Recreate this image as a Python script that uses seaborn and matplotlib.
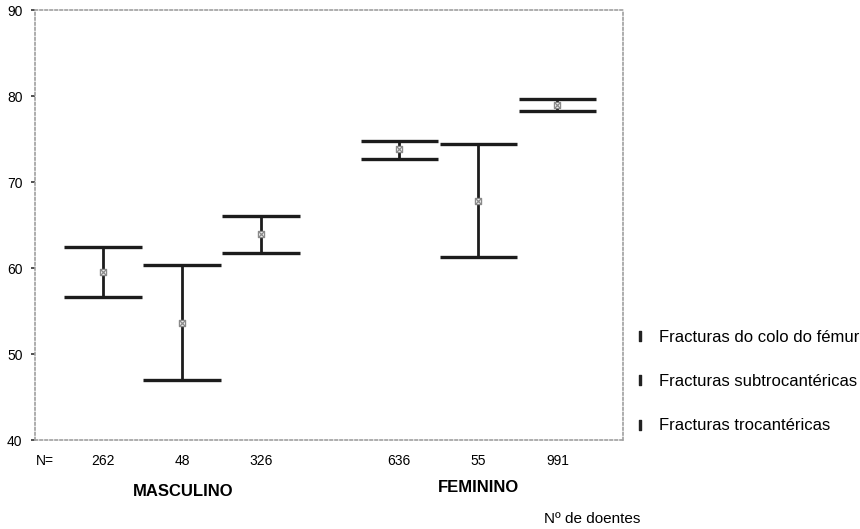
import matplotlib
matplotlib.use("Agg")
import matplotlib.pyplot as plt
import seaborn as sns
import pandas as pd
from matplotlib.lines import Line2D

# ---- data ----
groups = ["MASCULINO", "MASCULINO", "MASCULINO", "FEMININO", "FEMININO", "FEMININO"]
series = ["Fracturas do colo do fémur", "Fracturas subtrocantéricas", "Fracturas trocantéricas",
          "Fracturas do colo do fémur", "Fracturas subtrocantéricas", "Fracturas trocantéricas"]
n_labels = ["262", "48", "326", "636", "55", "991"]
means = [59.5, 53.6, 64.0, 73.8, 67.8, 79.0]
lower = [56.6, 47.0, 61.7, 72.7, 61.3, 78.2]
upper = [62.4, 60.3, 66.1, 74.8, 74.4, 79.7]
xpos = [0, 1, 2, 3.75, 4.75, 5.75]
series_names = ["Fracturas do colo do fémur", "Fracturas subtrocantéricas", "Fracturas trocantéricas"]

df = pd.DataFrame({"x": xpos, "mean": means, "lo": lower, "hi": upper,
                   "serie": series, "grupo": groups, "n": n_labels})

sns.set_theme(style="white")
plt.rcParams["font.family"] = ["Liberation Sans", "DejaVu Sans"]
plt.rcParams["text.color"] = "black"
plt.rcParams["xtick.color"] = "black"
plt.rcParams["ytick.color"] = "black"

fig = plt.figure(figsize=(8.6, 5.29), dpi=100)
ax = fig.add_axes([35/860, 1 - 440/529, (623-35)/860, (440-10)/529])

line_col = "#1c1c1c"
cap_half = 0.49
ax.vlines(df["x"], df["lo"], df["hi"], color=line_col, lw=2.0, zorder=2)
ax.hlines(df["lo"], df["x"] - cap_half, df["x"] + cap_half, color=line_col, lw=2.4, zorder=2)
ax.hlines(df["hi"], df["x"] - cap_half, df["x"] + cap_half, color=line_col, lw=2.4, zorder=2)
sns.scatterplot(data=df, x="x", y="mean", ax=ax, marker="s", s=22,
                facecolor="white", edgecolor="#8a8a8a", linewidth=1.0,
                legend=False, zorder=3)
sns.scatterplot(data=df, x="x", y="mean", ax=ax, marker="x", s=14,
                color="#8a8a8a", linewidth=0.9, legend=False, zorder=4)

ax.set_xlim(-0.86, 6.58)
ax.set_ylim(40, 90)
ax.set_yticks([40, 50, 60, 70, 80, 90])
ax.set_yticklabels(["40", "50", "60", "70", "80", "90"], fontsize=10)
ax.set_xticks(df["x"])
ax.set_xticklabels(df["n"], fontsize=10)
ax.tick_params(axis="x", length=0, pad=10)
ax.tick_params(axis="y", length=3, width=1.2, color="#333333", pad=6, direction="out", left=True)
ax.set_xlabel("")
ax.set_ylabel("")
for sp in ax.spines.values():
    sp.set_visible(True)
    sp.set_color("#a0a0a0")
    sp.set_linestyle((0, (1.5, 1.5)))
    sp.set_linewidth(1.2)

fig.text(36/860, 1 - 461/529, "N=", fontsize=10, ha="left", va="center")

# group labels
fig.text(183/860, 1 - 492/529, "MASCULINO", fontsize=12, fontweight="bold", ha="center", va="center")
fig.text(478/860, 1 - 488/529, "FEMININO", fontsize=12, fontweight="bold", ha="center", va="center")
fig.text(592/860, 1 - 519/529, "Nº de doentes", fontsize=11, ha="center", va="center")

# legend
handles = [Line2D([], [], marker="$\\mathbf{I}$", color="#222222", linestyle="none", markersize=7)
           for _ in series_names]
leg = fig.legend(handles, series_names, loc="upper left", bbox_to_anchor=(632/860, 1 - 330/529),
                 frameon=False, fontsize=12, handlelength=1.0, handletextpad=0.6,
                 labelspacing=1.75, borderaxespad=0, borderpad=0)

fig.savefig("out.png", dpi=100)
